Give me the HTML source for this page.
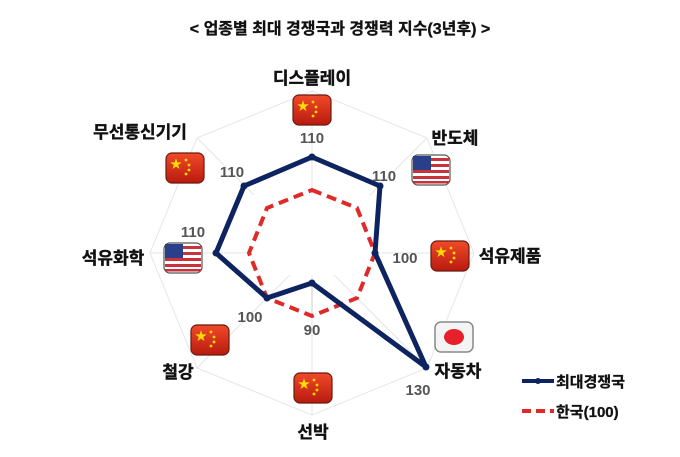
<!DOCTYPE html>
<html><head><meta charset="utf-8"><style>
html,body{margin:0;padding:0;background:#fff;}
svg{display:block;}
text{font-family:"Liberation Sans","Noto Sans CJK KR","NanumGothic",sans-serif;}
</style></head><body>
<svg width="680" height="457" viewBox="0 0 680 457" xmlns="http://www.w3.org/2000/svg">
<defs>
<linearGradient id="cn" x1="0" y1="0" x2="0" y2="1"><stop offset="0" stop-color="#f04a2a"/><stop offset="1" stop-color="#b81a0e"/></linearGradient>
<g id="fcn"><rect x="-19" y="-15" width="38" height="30" rx="6" fill="url(#cn)" stroke="#6a1a10" stroke-width="1.2"/>
<text x="-9" y="0" font-size="12" fill="#ffdd00" text-anchor="middle">★</text>
<circle cx="1" cy="-8" r="1.4" fill="#ffdd00"/><circle cx="4" cy="-3" r="1.4" fill="#ffdd00"/><circle cx="4" cy="2" r="1.4" fill="#ffdd00"/><circle cx="1" cy="6" r="1.4" fill="#ffdd00"/></g>
<g id="fus"><rect x="-19" y="-15" width="38" height="30" rx="6" fill="#fff" stroke="#555" stroke-width="1.2"/>
<rect x="-18" y="-12" width="36" height="3" fill="#c8323a"/><rect x="-18" y="-6" width="36" height="3" fill="#c8323a"/><rect x="-18" y="0" width="36" height="3" fill="#c8323a"/><rect x="-18" y="6" width="36" height="3" fill="#c8323a"/><rect x="-18" y="11" width="36" height="2.5" fill="#c8323a"/>
<rect x="-18" y="-14" width="18" height="14" fill="#2a3f8a"/></g>
<g id="fjp"><rect x="-19" y="-15" width="38" height="30" rx="6" fill="#f4f4f4" stroke="#888" stroke-width="1.5"/><ellipse cx="0" cy="0" rx="10" ry="8" fill="#e8202a"/></g>
</defs>
<text x="340" y="34" font-size="16" font-weight="bold" text-anchor="middle" fill="#111" stroke="#111" stroke-width="0.3">&lt; 업종별 최대 경쟁국과 경쟁력 지수(3년후) &gt;</text>
<!-- grid -->
<g stroke="#e6e6e6" stroke-width="1" fill="none">
<polygon points="312,91 427,138 474,253 427,368 312,415 197,368 150,253 197,138"/>
<line x1="312" y1="253" x2="312" y2="91"/><line x1="312" y1="253" x2="427" y2="138"/><line x1="312" y1="253" x2="474" y2="253"/><line x1="312" y1="253" x2="427" y2="368"/><line x1="312" y1="253" x2="312" y2="415"/><line x1="312" y1="253" x2="197" y2="368"/><line x1="312" y1="253" x2="150" y2="253"/><line x1="312" y1="253" x2="197" y2="138"/>
</g>
<rect x="250" y="195" width="120" height="80" fill="#fff"/>
<line x1="312" y1="283" x2="312" y2="318" stroke="#ccc"/>
<!-- korea -->
<polygon points="312,190 357,208 375,253 357,298 312,316 267,298 249,253 267,208" fill="none" stroke="#e02a2a" stroke-width="4" stroke-dasharray="10,6"/>
<!-- competitor -->
<polygon points="312,157 380,186 375,253 426,367 312,283 267,298 216,253 244,186" fill="none" stroke="#0e2460" stroke-width="5" stroke-linejoin="round"/>
<g fill="#0e2460"><circle cx="312" cy="157" r="3.5"/><circle cx="380" cy="186" r="3.5"/><circle cx="375" cy="253" r="3.5"/><circle cx="426" cy="367" r="3.5"/><circle cx="312" cy="283" r="3.5"/><circle cx="267" cy="298" r="3.5"/><circle cx="216" cy="253" r="3.5"/><circle cx="244" cy="186" r="3.5"/></g>
<!-- flags -->
<use href="#fcn" x="312" y="110"/><use href="#fus" x="431" y="170"/><use href="#fcn" x="450" y="256"/><use href="#fjp" x="454" y="337"/>
<use href="#fcn" x="313" y="388"/><use href="#fcn" x="210" y="340"/><use href="#fus" x="183" y="258"/><use href="#fcn" x="185" y="168"/>
<!-- labels -->
<g font-size="17" font-weight="bold" fill="#111" stroke="#111" stroke-width="0.4" text-anchor="middle">
<text x="312" y="84">디스플레이</text><text x="455" y="144">반도체</text><text x="510" y="262">석유제품</text><text x="458" y="377">자동차</text>
<text x="313" y="438">선박</text><text x="178" y="378">철강</text><text x="113" y="264">석유화학</text><text x="140" y="138">무선통신기기</text>
</g>
<g font-size="15" font-weight="bold" fill="#555" text-anchor="middle">
<text x="312" y="143">110</text><text x="232" y="177">110</text><text x="384" y="181">110</text><text x="193" y="237">110</text>
<text x="405" y="263">100</text><text x="250" y="322">100</text><text x="312" y="335">90</text><text x="418" y="395">130</text>
</g>
<!-- legend -->
<line x1="522" y1="381" x2="554" y2="381" stroke="#0e2460" stroke-width="4"/><circle cx="538" cy="381" r="3" fill="#0e2460"/>
<text x="556" y="387" font-size="15" font-weight="bold" fill="#111" stroke="#111" stroke-width="0.3">최대경쟁국</text>
<line x1="522" y1="411" x2="554" y2="411" stroke="#e02a2a" stroke-width="4" stroke-dasharray="9,5"/>
<text x="556" y="417" font-size="15" font-weight="bold" fill="#111" stroke="#111" stroke-width="0.3">한국(100)</text>
</svg>
</body></html>
